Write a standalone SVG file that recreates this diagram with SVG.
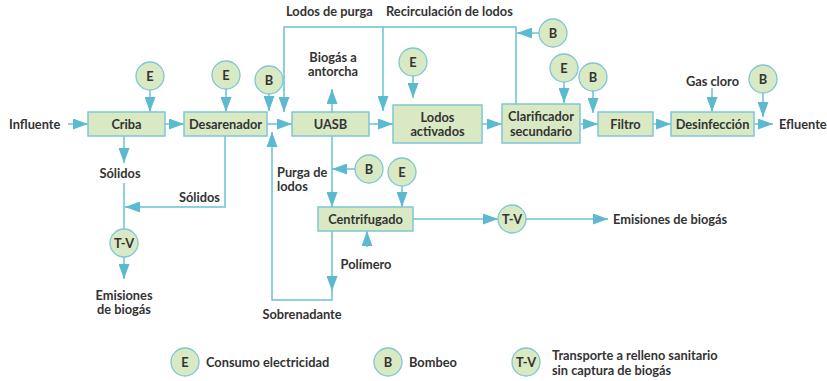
<svg xmlns="http://www.w3.org/2000/svg" width="827" height="381" viewBox="0 0 827 381">
<style>
text{font-family:Lato,"Liberation Sans",sans-serif;font-size:12.8px;font-weight:bold;fill:#333;}
.c{text-anchor:middle;}
.box{fill:#d9e9c3;stroke:#7ec6d6;stroke-width:1.5;}
.cir{fill:#d9e9c3;stroke:#7ec6d6;stroke-width:1.3;}
.ln{fill:none;stroke:#6cc0d5;stroke-width:1.5;}
.ar{fill:none;stroke:#6cc0d5;stroke-width:1.5;marker-end:url(#ah);}
</style>
<defs>
<marker id="ah" markerUnits="userSpaceOnUse" markerWidth="15" markerHeight="11" refX="15" refY="5.5" orient="auto">
<path d="M0,0 L15,5.5 L0,11 Z" fill="#5bb9d0"/>
</marker>
</defs>
<rect width="827" height="381" fill="#fff"/>
<g id="connectors">
<path class="ar" d="M68,124 H88"/>
<path class="ar" d="M165,124 H184"/>
<path class="ar" d="M150,90 V112"/>
<path class="ar" d="M226,89 V112"/>
<path class="ar" d="M269,94 V111"/>
<path class="ar" d="M267,124 H292"/>
<path class="ar" d="M516,104 V27 H284 V112"/>
<path class="ar" d="M383,27 V111"/>
<path class="ar" d="M539,33 H517"/>
<path class="ar" d="M369,124 H393"/>
<path class="ar" d="M332,112 V89"/>
<path class="ar" d="M413,76 V98"/>
<path class="ar" d="M482,124 H502"/>
<path class="ar" d="M564,82 V103"/>
<path class="ar" d="M593,91 V113"/>
<path class="ar" d="M580,124 H598"/>
<path class="ar" d="M653,124 H671"/>
<path class="ar" d="M712,88 V112"/>
<path class="ar" d="M754,124 H773"/>
<path class="ar" d="M763,93 V117"/>
<path class="ar" d="M124,136 V163"/>
<path class="ln" d="M124,183 V229"/>
<path class="ar" d="M225,136 V207 H125"/>
<path class="ar" d="M124,257 V279"/>
<path class="ar" d="M332,136 V207"/>
<path class="ar" d="M355,169 H332"/>
<path class="ar" d="M402,186 V207"/>
<path class="ar" d="M413,219 H498"/>
<path class="ar" d="M526,219 H608"/>
<path class="ar" d="M367,247 V231"/>
<path class="ar" d="M332,231 V291"/>
<path class="ar" d="M332,290 V300 H272 V132"/>
</g>
<g id="criba"><rect class="box" x="88" y="112" width="77" height="24"/><text class="c" x="126.5" y="128.5">Criba</text></g>
<g id="desarenador"><rect class="box" x="184" y="112" width="83" height="24"/><text class="c" x="225.5" y="128.5">Desarenador</text></g>
<g id="uasb"><rect class="box" x="292" y="112" width="77" height="24"/><text class="c" x="330.5" y="128.5">UASB</text></g>
<g id="lodos-activados"><rect class="box" x="393" y="105" width="89" height="38"/><text class="c" x="437.5" y="121.5">Lodos</text><text class="c" x="437.5" y="136">activados</text></g>
<g id="clarificador"><rect class="box" x="502" y="104" width="78" height="39"/><text class="c" x="541" y="121">Clarificador</text><text class="c" x="541" y="135.5">secundario</text></g>
<g id="filtro"><rect class="box" x="598" y="112" width="55" height="24"/><text class="c" x="625.5" y="128.5">Filtro</text></g>
<g id="desinfeccion"><rect class="box" x="671" y="112" width="83" height="24"/><text class="c" x="712.5" y="128.5">Desinfección</text></g>
<g id="centrifugado"><rect class="box" x="318" y="207" width="95" height="24"/><text class="c" x="365.5" y="223.5">Centrifugado</text></g>
<g id="e-criba"><circle class="cir" cx="150" cy="76" r="14"/><text class="c" x="150" y="80.5">E</text></g>
<g id="e-desarenador"><circle class="cir" cx="226" cy="75" r="14"/><text class="c" x="226" y="79.5">E</text></g>
<g id="b-uasb"><circle class="cir" cx="269" cy="80" r="14"/><text class="c" x="269" y="84.5">B</text></g>
<g id="e-lodos"><circle class="cir" cx="413" cy="62" r="14"/><text class="c" x="413" y="66.5">E</text></g>
<g id="b-recirculacion"><circle class="cir" cx="553" cy="33" r="14"/><text class="c" x="553" y="37.5">B</text></g>
<g id="e-clarificador"><circle class="cir" cx="564" cy="68" r="14"/><text class="c" x="564" y="72.5">E</text></g>
<g id="b-filtro"><circle class="cir" cx="593" cy="77" r="14"/><text class="c" x="593" y="81.5">B</text></g>
<g id="b-efluente"><circle class="cir" cx="763" cy="79" r="14"/><text class="c" x="763" y="83.5">B</text></g>
<g id="b-purga"><circle class="cir" cx="369" cy="169" r="14"/><text class="c" x="369" y="173.5">B</text></g>
<g id="e-centrifugado"><circle class="cir" cx="402" cy="172" r="14"/><text class="c" x="402" y="176.5">E</text></g>
<g id="tv-solidos"><circle class="cir" cx="124" cy="243" r="14"/><text class="c" x="124" y="247.5">T-V</text></g>
<g id="tv-centrifugado"><circle class="cir" cx="512" cy="219" r="14"/><text class="c" x="512" y="223.5">T-V</text></g>
<g id="labels">
<text x="9" y="128.5">Influente</text>
<text x="779" y="128.5">Efluente</text>
<text class="c" x="712.5" y="85.5">Gas cloro</text>
<text x="286" y="15.5">Lodos de purga</text>
<text x="386" y="15.5">Recirculación de lodos</text>
<text class="c" x="333" y="61.5">Biogás a</text>
<text class="c" x="333" y="76">antorcha</text>
<text class="c" x="120" y="177.5">Sólidos</text>
<text x="220" y="201.5" text-anchor="end">Sólidos</text>
<text class="c" x="124" y="299.5">Emisiones</text>
<text class="c" x="124" y="314">de biogás</text>
<text x="277" y="176.5">Purga de</text>
<text x="277" y="191">lodos</text>
<text class="c" x="366" y="268.5">Polímero</text>
<text class="c" x="302" y="318.5">Sobrenadante</text>
<text x="613" y="223.5">Emisiones de biogás</text>
</g>
<g id="legend">
<circle class="cir" cx="185" cy="362" r="14"/><text class="c" x="185" y="366.5">E</text>
<text x="206" y="366.5">Consumo electricidad</text>
<circle class="cir" cx="388" cy="362" r="14"/><text class="c" x="388" y="366.5">B</text>
<text x="409" y="366.5">Bombeo</text>
<circle class="cir" cx="526" cy="362" r="14"/><text class="c" x="526" y="366.5">T-V</text>
<text x="552" y="360">Transporte a relleno sanitario</text>
<text x="552" y="375">sin captura de biogás</text>
</g>
</svg>
